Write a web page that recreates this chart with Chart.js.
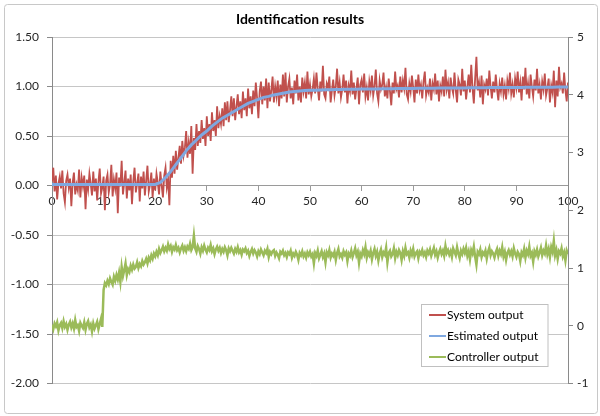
<!DOCTYPE html>
<html>
<head>
<meta charset="utf-8">
<script src="https://cdn.jsdelivr.net/npm/chart.js@4.4.1/dist/chart.umd.min.js"></script>
<style>
  html, body { margin: 0; padding: 0; background: #fff; }
  #wrap { width: 600px; height: 416px; position: relative; }
</style>
</head>
<body>
<div id="wrap"><canvas id="c" width="600" height="416"></canvas></div>
<script>
// ---- data ----
const chartTitle = "Identification results";
const seriesNames = ["System output", "Estimated output", "Controller output"];
const timeStep = 0.25;         // sample spacing of the noisy series
const estStep = 1;             // sample spacing of the estimated output
const xTicks = [0, 10, 20, 30, 40, 50, 60, 70, 80, 90, 100];
const leftTicks = [-2.0, -1.5, -1.0, -0.5, 0.0, 0.5, 1.0, 1.5];
const rightTicks = [-1, 0, 1, 2, 3, 4, 5];

// System output (left axis), one row per time unit (4 samples)
const systemOutput = [
  0.04, 0.18, -0.06, 0.10,  -0.14, 0.02, 0.09, -0.03,
  0.15, -0.08, -0.17, 0.05,  0.11, -0.02, 0.07, -0.21,
  0.03, 0.13, -0.09, 0.01,  -0.05, 0.16, -0.12, 0.08,
  -0.01, 0.10, -0.24, 0.06,  -0.04, 0.12, 0.02, -0.10,
  0.14, -0.06, 0.07, -0.15,  0.04, 0.17, -0.08, -0.02,
  0.09, -0.25, 0.05, 0.11,  -0.07, 0.01, 0.21, -0.11,
  0.06, -0.03, 0.13, -0.28,  0.08, -0.01, 0.25, -0.09,
  0.03, 0.15, -0.13, 0.07,  -0.05, 0.11, -0.19, 0.04,
  0.18, -0.07, 0.02, 0.12,  -0.16, 0.09, -0.03, 0.14,
  -0.10, 0.05, 0.20, -0.06,  0.01, 0.13, -0.12, 0.07,
  -0.05, 0.12, 0.03, -0.09,   0.14, 0.00, -0.12, 0.10,
  0.18, -0.02, 0.06, -0.20,   0.25, 0.08, 0.30, 0.12,
  0.35, 0.16, 0.28, 0.40,     0.22, 0.45, 0.30, 0.38,
  0.55, 0.28, 0.43, 0.32,     0.60, 0.12, 0.48, 0.36,
  0.62, 0.40, 0.55, 0.43,     0.66, 0.47, 0.58, 0.40,
  0.70, 0.50, 0.62, 0.45,     0.74, 0.55, 0.66, 0.50,
  0.80, 0.58, 0.70, 0.62,     0.78, 0.60, 0.84, 0.66,
  0.85, 0.64, 0.76, 0.90,     0.70, 0.88, 0.66, 0.80,
  0.92, 0.72, 0.85, 0.68,     0.95, 0.76, 0.88, 0.70,
  0.98, 0.78, 0.90, 0.72,     0.96, 0.80, 1.04, 0.88,
  0.68, 0.95, 1.05, 0.82,     1.00, 0.86, 1.08, 0.78,
  1.04, 0.85, 0.96, 1.10,     0.84, 1.00, 0.90, 1.06,
  0.80, 1.02, 0.88, 1.12,     0.90, 1.14, 0.84, 1.00,
  1.08, 0.88, 0.99, 0.82,     1.06, 0.93, 1.12, 0.86,
  1.00, 0.84, 1.09, 0.95,     1.04, 0.88, 1.15, 0.92,
  1.02, 0.90, 0.97, 1.08,     0.93, 1.14, 0.98, 0.86,
  1.05, 0.95, 1.21, 0.92,     0.88, 1.03, 0.99, 1.10,
  0.84, 0.96, 1.07, 0.91,     1.00, 1.18, 0.93, 1.04,
  0.89, 0.97, 1.12, 0.94,     1.06, 0.83, 1.01, 0.95,
  1.16, 0.92, 1.04, 0.87,     0.98, 1.09, 0.82, 1.02,
  1.07, 0.94, 1.13, 0.90,     0.99, 0.86, 1.05, 0.96,
  1.11, 0.91, 1.00, 1.17,     0.93, 0.85, 1.06, 0.97,
  1.02, 1.14, 0.90, 0.99,     0.88, 1.08, 0.95, 0.81,
  1.04, 0.93, 1.15, 0.97,     1.01, 0.89, 1.10, 0.94,
  1.06, 0.98, 1.19, 0.92,     0.87, 1.03, 0.95, 1.11,
  0.99, 0.84, 1.07, 0.93,     1.12, 0.96, 1.02, 0.88,
  1.05, 1.15, 0.91, 0.99,     0.94, 1.08, 0.86, 1.03,
  0.97, 1.13, 0.92, 1.06,     0.85, 1.01, 0.95, 1.10,
  0.90, 1.17, 0.97, 1.04,     0.88, 1.09, 0.99, 0.93,
  1.14, 0.96, 0.84, 1.07,     1.02, 0.91, 1.18, 0.95,
  1.06, 0.87, 1.00, 1.12,     0.94, 1.22, 0.98, 0.83,
  1.08, 1.30, 0.96, 1.04,     0.89, 1.11, 0.82, 1.02,
  0.97, 1.08, 0.91, 1.16,     1.00, 0.88, 1.05, 0.94,
  1.12, 0.97, 0.86, 1.03,     0.95, 1.09, 0.92, 1.01,
  0.87, 1.06, 0.98, 1.14,     0.93, 1.02, 0.89, 1.08,
  0.99, 1.15, 0.94, 1.04,     0.86, 1.10, 0.97, 1.19,
  0.92, 1.03, 0.88, 1.12,     1.00, 0.90, 1.07, 0.96,
  1.18, 0.93, 1.02, 0.87,     1.05, 0.97, 1.13, 0.91,
  0.98, 1.08, 0.84, 1.01,     0.94, 1.16, 0.79, 1.06,
  0.90, 1.20, 0.99, 1.03,     0.93, 1.14, 0.96, 0.85,
  1.04
];

// Estimated output (left axis), one sample per time unit
const estimatedOutput = [
  0.01, 0.01, 0.01, 0.01, 0.01, 0.01, 0.01, 0.01, 0.01, 0.01,
  0.01, 0.01, 0.01, 0.01, 0.01, 0.01, 0.01, 0.01, 0.01, 0.01,
  0.01, 0.03, 0.08, 0.14, 0.21, 0.28, 0.35, 0.41, 0.46, 0.51,
  0.55, 0.60, 0.64, 0.68, 0.71, 0.74, 0.77, 0.80, 0.83, 0.85,
  0.87, 0.89, 0.90, 0.915, 0.925, 0.935, 0.945, 0.95, 0.955, 0.96,
  0.962, 0.963, 0.965, 0.966, 0.968, 0.969, 0.970, 0.971, 0.972, 0.973,
  0.974, 0.975, 0.976, 0.976, 0.977, 0.978, 0.978, 0.979, 0.980, 0.980,
  0.981, 0.982, 0.982, 0.983, 0.983, 0.984, 0.984, 0.985, 0.985, 0.986,
  0.986, 0.987, 0.987, 0.988, 0.988, 0.989, 0.989, 0.990, 0.990, 0.990,
  0.991, 0.991, 0.992, 0.992, 0.992, 0.993, 0.993, 0.993, 0.994, 0.994,
  0.995
];

// Controller output (right axis), one row per time unit (4 samples)
const controllerOutput = [
  0.02, -0.06, 0.04, -0.01,   0.06, -0.08, 0.01, 0.05,
  -0.04, 0.08, -0.02, 0.03,   -0.07, 0.02, 0.07, -0.03,
  0.04, -0.05, 0.10, -0.02,   0.01, -0.09, 0.05, 0.00,
  -0.04, 0.06, -0.07, 0.03,   0.08, -0.03, 0.02, -0.10,
  0.04, -0.05, 0.01, 0.07,    -0.06, 0.03, 0.12, -0.02,
  0.62, 0.74, 0.70, 0.78,     0.72, 0.82, 0.76, 0.71,
  0.85, 0.78, 0.88, 0.80,     0.92, 0.76, 1.02, 0.86,
  0.96, 1.08, 0.88, 0.98,     0.93, 1.04, 0.97, 1.06,
  0.99, 1.02, 1.10, 1.00,     1.07, 1.03, 1.12, 1.06,
  1.10, 1.16, 1.08, 1.18,     1.13, 1.22, 1.16, 1.25,
  1.20, 1.28, 1.22, 1.33,     1.26, 1.31, 1.37, 1.29,
  1.35, 1.30, 1.41, 1.33,     1.38, 1.28, 1.36, 1.32,
  1.40, 1.31, 1.35, 1.27,     1.34, 1.39, 1.30, 1.36,
  1.29, 1.37, 1.33, 1.42,     1.31, 1.36, 1.56, 1.34,
  1.28, 1.38, 1.33, 1.25,     1.36, 1.30, 1.39, 1.32,
  1.27, 1.35, 1.31, 1.40,     1.29, 1.34, 1.24, 1.32,
  1.37, 1.30, 1.35, 1.26,     1.33, 1.28, 1.36, 1.31,
  1.22, 1.34, 1.29, 1.35,     1.30, 1.25, 1.33, 1.28,
  1.36, 1.27, 1.31, 1.23,     1.32, 1.29, 1.34, 1.26,
  1.30, 1.21, 1.28, 1.33,     1.25, 1.31, 1.27, 1.20,
  1.29, 1.24, 1.32, 1.27,     1.22, 1.30, 1.26, 1.33,
  1.19, 1.28, 1.24, 1.29,     1.31, 1.21, 1.27, 1.23,
  1.17, 1.28, 1.25, 1.30,     1.22, 1.26, 1.19, 1.27,
  1.24, 1.30, 1.18, 1.25,     1.21, 1.28, 1.23, 1.14,
  1.26, 1.22, 1.29, 1.20,     1.25, 1.18, 1.27, 1.22,
  1.28, 1.20, 1.24, 1.08,     1.26, 1.21, 1.30, 1.17,
  1.23, 1.29, 1.19, 1.25,     1.10, 1.27, 1.22, 1.31,
  1.18, 1.25, 1.21, 1.28,     1.14, 1.26, 1.33, 1.20,
  1.24, 1.18, 1.29, 1.23,     1.27, 1.12, 1.25, 1.21,
  1.30, 1.19, 1.26, 1.34,     1.22, 1.28, 1.09, 1.25,
  1.20, 1.31, 1.24, 1.36,     1.18, 1.27, 1.22, 1.30,
  1.15, 1.26, 1.33, 1.21,     1.28, 1.13, 1.25, 1.32,
  1.19, 1.27, 1.23, 1.35,     1.10, 1.26, 1.30, 1.20,
  1.24, 1.34, 1.17, 1.28,     1.22, 1.31, 1.26, 1.14,
  1.29, 1.21, 1.35, 1.24,     1.27, 1.18, 1.30, 1.23,
  1.33, 1.20, 1.26, 1.29,     1.17, 1.28, 1.24, 1.31,
  1.22, 1.27, 1.19, 1.30,     1.25, 1.32, 1.21, 1.28,
  1.35, 1.23, 1.29, 1.18,     1.27, 1.33, 1.24, 1.30,
  1.21, 1.38, 1.26, 1.31,     1.23, 1.29, 1.19, 1.34,
  1.28, 1.22, 1.36, 1.25,     1.17, 1.30, 1.24, 1.33,
  1.26, 1.35, 1.21, 1.29,     1.15, 1.31, 1.25, 1.37,
  1.20, 1.06, 1.28, 1.24,     1.32, 1.19, 1.27, 1.23,
  1.30, 1.16, 1.28, 1.35,     1.22, 1.29, 1.25, 1.18,
  1.27, 1.33, 1.21, 1.30,     1.24, 1.36, 1.20, 1.28,
  1.14, 1.26, 1.31, 1.23,     1.29, 1.20, 1.34, 1.25,
  1.19, 1.28, 1.24, 1.12,     1.27, 1.22, 1.33, 1.18,
  1.30, 1.24, 1.37, 1.21,     1.26, 1.11, 1.29, 1.23,
  1.32, 1.20, 1.27, 1.35,     1.22, 1.30, 1.25, 1.39,
  1.24, 1.33, 1.19, 1.36,     1.28, 1.47, 1.22, 1.31,
  1.16, 1.29, 1.25, 1.34,     1.20, 1.27, 1.13, 1.30,
  1.24
];

// ---- build points ----
const toPoints = (arr, step) => arr.map((v, i) => ({ x: i * step, y: v }));

const FONT = 'Lato, "Liberation Sans", sans-serif';
Chart.defaults.font.family = FONT;
Chart.defaults.font.size = 12;
Chart.defaults.color = '#262626';

const frame = {
  id: 'frame',
  beforeDraw(chart) {
    const ctx = chart.ctx;
    ctx.save();
    ctx.fillStyle = '#fff';
    ctx.fillRect(0, 0, chart.width, chart.height);
    ctx.strokeStyle = '#c8c8c8';
    ctx.lineWidth = 1;
    ctx.beginPath();
    ctx.roundRect(4.5, 4.5, 593, 409, 3);
    ctx.stroke();
    ctx.restore();
  }
};

const boxLegend = {
  id: 'boxLegend',
  afterDraw(chart) {
    const ctx = chart.ctx;
    const bx = 421.5, by = 304.5, bw = 126.5, bh = 62;
    ctx.save();
    ctx.fillStyle = '#fff';
    ctx.fillRect(bx, by, bw, bh);
    ctx.strokeStyle = '#c0c0c0';
    ctx.lineWidth = 1;
    ctx.strokeRect(bx, by, bw, bh);
    ctx.font = '12px ' + FONT;
    ctx.textBaseline = 'middle';
    ctx.textAlign = 'left';
    chart.data.datasets.forEach((ds, i) => {
      const y = 315 + i * 21;
      ctx.strokeStyle = ds.borderColor;
      ctx.lineWidth = 2;
      ctx.beginPath();
      ctx.moveTo(429, y);
      ctx.lineTo(446, y);
      ctx.stroke();
      ctx.fillStyle = '#000';
      ctx.fillText(ds.label, 447, y);
    });
    ctx.restore();
  }
};

new Chart(document.getElementById('c'), {
  type: 'line',
  data: {
    datasets: [
      {
        label: seriesNames[0],
        data: toPoints(systemOutput, timeStep),
        borderColor: '#c0504d',
        borderWidth: 1.8,
        yAxisID: 'y',
        order: 1
      },
      {
        label: seriesNames[1],
        data: toPoints(estimatedOutput, estStep),
        borderColor: '#7fa8e0',
        borderWidth: 3,
        yAxisID: 'y',
        order: 0
      },
      {
        label: seriesNames[2],
        data: toPoints(controllerOutput, timeStep),
        borderColor: '#9bbb59',
        borderWidth: 2.5,
        yAxisID: 'y2',
        order: 2
      }
    ]
  },
  options: {
    responsive: false,
    animation: false,
    events: [],
    elements: { point: { radius: 0 }, line: { tension: 0 } },
    layout: { padding: { left: 0, right: 0, top: 0, bottom: 32.5 } },
    plugins: {
      legend: { display: false },
      tooltip: { enabled: false },
      title: {
        display: true,
        text: chartTitle,
        color: '#000',
        font: { size: 14, weight: 'bold', family: FONT, lineHeight: 1.2 },
        padding: { top: 11.5, bottom: 8.7 }
      }
    },
    scales: {
      x: {
        type: 'linear',
        min: xTicks[0],
        max: xTicks[xTicks.length - 1],
        position: { y: 0 },
        afterBuildTicks(scale) { scale.ticks = xTicks.map(v => ({ value: v })); },
        ticks: { padding: 3, color: '#262626', maxRotation: 0, autoSkip: false },
        grid: { drawOnChartArea: false, tickLength: 5, tickColor: '#9a9a9a' },
        border: { color: '#9a9a9a', width: 1 }
      },
      y: {
        type: 'linear',
        position: 'left',
        min: leftTicks[0],
        max: leftTicks[leftTicks.length - 1],
        afterBuildTicks(scale) { scale.ticks = leftTicks.map(v => ({ value: v })); },
        afterFit(scale) { scale.width = 52; },
        ticks: { padding: 8, color: '#262626', callback: v => v.toFixed(2) },
        grid: { color: '#c6c6c6', tickLength: 5, tickColor: '#8a8a8a' },
        border: { color: '#8a8a8a', width: 1 }
      },
      y2: {
        type: 'linear',
        position: 'right',
        min: rightTicks[0],
        max: rightTicks[rightTicks.length - 1],
        afterBuildTicks(scale) { scale.ticks = rightTicks.map(v => ({ value: v })); },
        afterFit(scale) { scale.width = 32; },
        ticks: { padding: 4, color: '#262626', callback: v => String(v) },
        grid: { drawOnChartArea: false, tickLength: 5, tickColor: '#8a8a8a' },
        border: { color: '#8a8a8a', width: 1 }
      }
    }
  },
  plugins: [frame, boxLegend]
});
</script>
</body>
</html>
